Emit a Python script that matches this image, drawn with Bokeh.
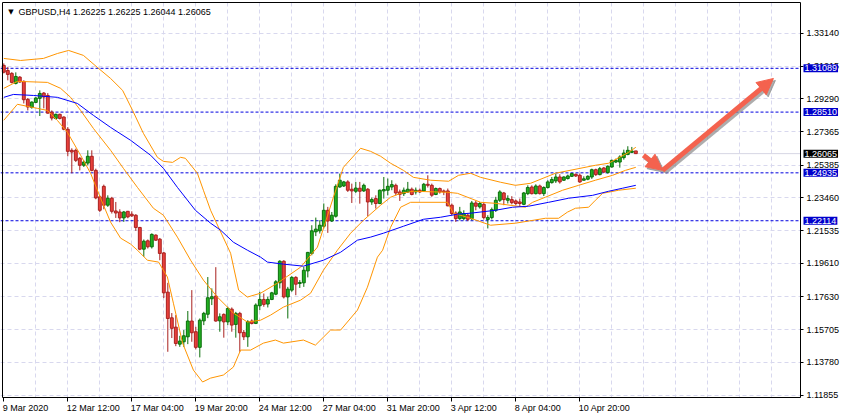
from bokeh.plotting import figure
from bokeh.models import (ColumnDataSource, FixedTicker, PrintfTickFormatter, Span,
                          Label, LabelSet, Arrow, NormalHead, LinearAxis, Grid, BoxAnnotation)
from bokeh.core.properties import value
from bokeh.embed import file_html
from bokeh.resources import INLINE

# ---------------- data ----------------
symbol_title = "GBPUSD,H4  1.26225 1.26225 1.26044 1.26065"

opens = [
1.3126, 1.3096, 1.3079, 1.3020, 1.3057, 1.3032, 1.2926, 1.2879, 1.2908, 1.2932,
1.2963, 1.2949, 1.2851, 1.2814, 1.2838, 1.2822, 1.2750, 1.2626, 1.2626, 1.2579,
1.2538, 1.2551, 1.2591, 1.2508, 1.2352, 1.2414, 1.2303, 1.2344, 1.2269, 1.2263,
1.2228, 1.2267, 1.2250, 1.2244, 1.2172, 1.2044, 1.2093, 1.2058, 1.2127, 1.2103,
1.2022, 1.1791, 1.1640, 1.1585, 1.1485, 1.1499, 1.1528, 1.1621, 1.1558, 1.1466,
1.1622, 1.1661, 1.1752, 1.1768, 1.1622, 1.1660, 1.1616, 1.1691, 1.1601, 1.1666,
1.1554, 1.1528, 1.1621, 1.1607, 1.1711, 1.1748, 1.1721, 1.1748, 1.1779, 1.1846,
1.1973, 1.1763, 1.1803, 1.1878, 1.1842, 1.1846, 1.1916, 1.2019, 1.2146, 1.2152,
1.2179, 1.2273, 1.2210, 1.2238, 1.2410, 1.2416, 1.2440, 1.2397, 1.2385, 1.2403,
1.2387, 1.2397, 1.2322, 1.2342, 1.2313, 1.2387, 1.2391, 1.2410, 1.2420, 1.2381,
1.2371, 1.2381, 1.2397, 1.2381, 1.2391, 1.2387, 1.2426, 1.2420, 1.2366, 1.2401,
1.2387, 1.2387, 1.2303, 1.2257, 1.2224, 1.2224, 1.2244, 1.2224, 1.2316, 1.2293,
1.2308, 1.2219, 1.2230, 1.2273, 1.2332, 1.2375, 1.2332, 1.2336, 1.2328, 1.2322,
1.2308, 1.2371, 1.2410, 1.2371, 1.2416, 1.2371, 1.2407, 1.2436, 1.2446, 1.2469,
1.2450, 1.2460, 1.2473, 1.2485, 1.2479, 1.2450, 1.2456, 1.2469, 1.2512, 1.2483,
1.2522, 1.2495, 1.2528, 1.2557, 1.2557, 1.2583, 1.2602, 1.2614, 1.26225]

highs = [
1.3138, 1.3116, 1.3086, 1.3085, 1.3063, 1.3038, 1.2934, 1.2914, 1.2939, 1.2979,
1.2969, 1.2963, 1.2861, 1.2842, 1.2842, 1.2826, 1.2763, 1.2638, 1.2636, 1.2587,
1.2567, 1.2626, 1.2626, 1.2518, 1.2361, 1.2424, 1.2361, 1.2352, 1.2322, 1.2279,
1.2269, 1.2269, 1.2267, 1.2250, 1.2175, 1.2101, 1.2101, 1.2137, 1.2131, 1.2110,
1.2028, 1.1846, 1.1668, 1.1656, 1.1534, 1.1568, 1.1680, 1.1803, 1.1587, 1.1636,
1.1675, 1.1880, 1.1813, 1.1938, 1.1666, 1.1666, 1.1705, 1.1701, 1.1675, 1.1675,
1.1568, 1.1626, 1.1631, 1.1725, 1.1793, 1.1783, 1.1764, 1.1793, 1.1862, 1.1979,
1.1979, 1.1822, 1.1885, 1.1885, 1.1862, 1.1940, 1.2028, 1.2185, 1.2230, 1.2214,
1.2313, 1.2293, 1.2263, 1.2426, 1.2489, 1.2446, 1.2450, 1.2430, 1.2440, 1.2440,
1.2430, 1.2404, 1.2348, 1.2361, 1.2395, 1.2469, 1.2460, 1.2450, 1.2430, 1.2395,
1.2407, 1.2440, 1.2407, 1.2407, 1.2401, 1.2434, 1.2479, 1.2430, 1.2407, 1.2407,
1.2395, 1.2401, 1.2313, 1.2267, 1.2293, 1.2273, 1.2254, 1.2328, 1.2328, 1.2322,
1.2316, 1.2244, 1.2289, 1.2352, 1.2391, 1.2381, 1.2361, 1.2356, 1.2336, 1.2342,
1.2381, 1.2420, 1.2420, 1.2426, 1.2424, 1.2414, 1.2450, 1.2469, 1.2489, 1.2485,
1.2473, 1.2483, 1.2493, 1.2489, 1.2489, 1.2473, 1.2479, 1.2518, 1.2518, 1.2528,
1.2528, 1.2538, 1.2571, 1.2577, 1.2597, 1.2630, 1.2650, 1.2646, 1.26225]

lows = [
1.3079, 1.3038, 1.3020, 1.3014, 1.3024, 1.2902, 1.2861, 1.2871, 1.2904, 1.2828,
1.2873, 1.2842, 1.2802, 1.2808, 1.2808, 1.2744, 1.2591, 1.2491, 1.2557, 1.2508,
1.2528, 1.2538, 1.2502, 1.2338, 1.2263, 1.2279, 1.2293, 1.2254, 1.2228, 1.2203,
1.2205, 1.2226, 1.2234, 1.2152, 1.2038, 1.1999, 1.2048, 1.2048, 1.2093, 1.1979,
1.1756, 1.1440, 1.1521, 1.1473, 1.1469, 1.1469, 1.1485, 1.1499, 1.1454, 1.1407,
1.1597, 1.1638, 1.1715, 1.1617, 1.1558, 1.1523, 1.1597, 1.1558, 1.1523, 1.1440,
1.1509, 1.1469, 1.1601, 1.1603, 1.1685, 1.1705, 1.1701, 1.1744, 1.1773, 1.1813,
1.1754, 1.1636, 1.1793, 1.1773, 1.1816, 1.1822, 1.1878, 1.2008, 1.2121, 1.2136,
1.2166, 1.2140, 1.2204, 1.2230, 1.2406, 1.2410, 1.2381, 1.2316, 1.2375, 1.2312,
1.2381, 1.2238, 1.2305, 1.2283, 1.2309, 1.2342, 1.2361, 1.2391, 1.2361, 1.2328,
1.2357, 1.2375, 1.2361, 1.2366, 1.2375, 1.2381, 1.2407, 1.2352, 1.2362, 1.2371,
1.2362, 1.2297, 1.2244, 1.2205, 1.2214, 1.2214, 1.2210, 1.2214, 1.2273, 1.2283,
1.2219, 1.2166, 1.2219, 1.2263, 1.2322, 1.2303, 1.2313, 1.2308, 1.2303, 1.2293,
1.2303, 1.2362, 1.2366, 1.2366, 1.2366, 1.2357, 1.2401, 1.2430, 1.2434, 1.2430,
1.2446, 1.2454, 1.2469, 1.2469, 1.2434, 1.2448, 1.2450, 1.2458, 1.2475, 1.2479,
1.2493, 1.2489, 1.2524, 1.2551, 1.2524, 1.2571, 1.2597, 1.2610, 1.26044]

closes = [
1.3086, 1.3073, 1.3026, 1.3061, 1.3028, 1.2924, 1.2881, 1.2910, 1.2934, 1.2961,
1.2940, 1.2845, 1.2816, 1.2838, 1.2814, 1.2750, 1.2620, 1.2616, 1.2567, 1.2538,
1.2557, 1.2591, 1.2508, 1.2346, 1.2273, 1.2303, 1.2344, 1.2267, 1.2257, 1.2228,
1.2263, 1.2234, 1.2240, 1.2172, 1.2044, 1.2091, 1.2058, 1.2131, 1.2097, 1.2019,
1.1787, 1.1636, 1.1578, 1.1489, 1.1503, 1.1534, 1.1621, 1.1552, 1.1466, 1.1626,
1.1666, 1.1758, 1.1764, 1.1621, 1.1646, 1.1616, 1.1695, 1.1597, 1.1666, 1.1552,
1.1528, 1.1617, 1.1607, 1.1715, 1.1748, 1.1719, 1.1748, 1.1787, 1.1852, 1.1973,
1.1763, 1.1809, 1.1878, 1.1838, 1.1848, 1.1920, 1.2025, 1.2152, 1.2162, 1.2185,
1.2273, 1.2210, 1.2244, 1.2414, 1.2450, 1.2440, 1.2391, 1.2387, 1.2404, 1.2385,
1.2420, 1.2322, 1.2336, 1.2313, 1.2391, 1.2395, 1.2414, 1.2424, 1.2375, 1.2367,
1.2391, 1.2397, 1.2366, 1.2391, 1.2381, 1.2426, 1.2420, 1.2362, 1.2401, 1.2381,
1.2381, 1.2299, 1.2254, 1.2224, 1.2263, 1.2254, 1.2220, 1.2316, 1.2297, 1.2313,
1.2230, 1.2230, 1.2277, 1.2332, 1.2381, 1.2336, 1.2342, 1.2318, 1.2313, 1.2313,
1.2375, 1.2407, 1.2371, 1.2416, 1.2371, 1.2407, 1.2440, 1.2454, 1.2469, 1.2440,
1.2469, 1.2475, 1.2489, 1.2475, 1.2440, 1.2458, 1.2473, 1.2512, 1.2483, 1.2518,
1.2498, 1.2532, 1.2567, 1.2567, 1.2587, 1.2610, 1.2626, 1.2622, 1.26065]

# Bollinger bands (upper / middle / lower) and moving average, read at bar positions
upper_bar = [0, 4.2, 9.9, 13.4, 16.2, 19.9, 23.4, 26.7, 29.7, 32.2,
             34.9, 38.4, 39.9, 42.2, 44.2, 45.4, 48.4, 49.9, 51.7, 56.7,
             58.7, 60.9, 64.2, 68.4, 74.2, 78.4, 82.4, 84.9, 89.2, 91.7,
             94.2, 96.7, 99.9, 102.4, 106.7, 111.2, 113.7, 116.7, 119.2, 124.2,
             127.9, 131.7, 137.9, 147.9, 151.2, 156.2, 158]
upper_val = [1.3167, 1.3155, 1.3167, 1.3196, 1.3214, 1.3185, 1.3114, 1.3049, 1.2979, 1.2861,
             1.2726, 1.2585, 1.2561, 1.2555, 1.2585, 1.2579, 1.2491, 1.2391, 1.2273, 1.2020,
             1.1803, 1.1762, 1.1785, 1.1844, 1.1938, 1.2056, 1.2350, 1.2526, 1.2638, 1.2620,
             1.2591, 1.2550, 1.2508, 1.2467, 1.2450, 1.2444, 1.2479, 1.2491, 1.2467, 1.2438,
             1.2420, 1.2432, 1.2491, 1.2538, 1.2550, 1.2614, 1.2644]

mid_bar = [0, 3.4, 10.9, 14.2, 16.7, 19.2, 22.4, 26.7, 29.9, 33.4,
           37.4, 39.9, 43.4, 46.7, 49.9, 53.4, 57.4, 60.9, 64.2, 66.7,
           69.9, 74.2, 76.7, 79.9, 83.4, 86.7, 89.9, 94.2, 96.7, 99.2,
           102.4, 110.9, 113.4, 119.2, 122.9, 130.4, 132.2, 135.4, 139.7, 143.7,
           147.9, 152.2, 155.4, 158]
mid_val = [1.2991, 1.3032, 1.3026, 1.2991, 1.2938, 1.2861, 1.2755, 1.2626, 1.2520, 1.2408,
           1.2285, 1.2244, 1.2115, 1.1979, 1.1862, 1.1762, 1.1668, 1.1615, 1.1626, 1.1656,
           1.1703, 1.1744, 1.1785, 1.1920, 1.2038, 1.2138, 1.2214, 1.2303, 1.2350, 1.2373,
           1.2385, 1.2379, 1.2373, 1.2320, 1.2314, 1.2291, 1.2320, 1.2350, 1.2391, 1.2420,
           1.2450, 1.2479, 1.2508, 1.2526]

lower_bar = [0, 3.4, 8.4, 10.9, 13.4, 15.9, 19.2, 21.7, 24.2, 26.7,
             29.2, 31.7, 33.4, 35.9, 38.7, 40.9, 42.4, 44.7, 47.4, 49.7,
             51.7, 54.9, 57.4, 59.2, 61.7, 64.9, 67.9, 69.9, 74.9, 77.9,
             81.7, 84.2, 88.4, 90.9, 93.4, 94.7, 96.7, 99.2, 101.7, 110.9,
             112.4, 116.7, 121.7, 127.9, 135.4, 138.7, 140.9, 142.9, 146.2, 147.9,
             149.7, 153.7, 158]
lower_val = [1.2803, 1.2897, 1.2873, 1.2861, 1.2802, 1.2732, 1.2597, 1.2491, 1.2344, 1.2203,
             1.2109, 1.2074, 1.2038, 1.1979, 1.1968, 1.1880, 1.1726, 1.1491, 1.1332, 1.1262,
             1.1285, 1.1303, 1.1350, 1.1450, 1.1450, 1.1491, 1.1509, 1.1491, 1.1509, 1.1479,
             1.1568, 1.1568, 1.1685, 1.1820, 1.1997, 1.2038, 1.2173, 1.2291, 1.2320, 1.2320,
             1.2256, 1.2226, 1.2185, 1.2197, 1.2226, 1.2226, 1.2262, 1.2285, 1.2291, 1.2332,
             1.2373, 1.2391, 1.2403]

ma_bar = [0, 2.4, 7.4, 13.4, 18.4, 22.4, 26.7, 31.7, 36.7, 39.9,
          43.4, 47.9, 51.7, 54.2, 57.4, 60.9, 64.2, 65.9, 69.9, 74.9,
          79.9, 84.2, 88.4, 91.7, 94.9, 99.9, 104.9, 109.2, 113.4, 116.7,
          122.9, 127.2, 131.2, 136.2, 141.2, 147.2, 151.2, 154.7, 158]
ma_val = [1.2938, 1.2955, 1.2949, 1.2938, 1.2902, 1.2832, 1.2761, 1.2685, 1.2597, 1.2520,
          1.2408, 1.2273, 1.2197, 1.2156, 1.2085, 1.2038, 1.1997, 1.1968, 1.1956, 1.1944,
          1.1979, 1.2026, 1.2097, 1.2115, 1.2138, 1.2179, 1.2220, 1.2232, 1.2250, 1.2256,
          1.2273, 1.2291, 1.2297, 1.2320, 1.2344, 1.2361, 1.2385, 1.2403, 1.2420]

levels = [1.31089, 1.28510, 1.24935, 1.22114]
level_labels = ["1.31089", "1.28510", "1.24935", "1.22114"]
bid_price = 1.26065
bid_label = "1.26065"

y_ticks = [1.11855, 1.13780, 1.15705, 1.17630, 1.19610, 1.21535,
           1.23460, 1.25385, 1.27365, 1.29290, 1.31215, 1.33140]
x_tick_bars = [0, 16, 32, 48, 64, 80, 96, 112, 128, 144]
x_tick_labels = ["9 Mar 2020", "12 Mar 12:00", "17 Mar 04:00", "19 Mar 20:00",
                 "24 Mar 12:00", "27 Mar 04:00", "31 Mar 20:00", "3 Apr 12:00",
                 "8 Apr 04:00", "10 Apr 20:00"]

# hand-drawn arrows (bar, price)
arrow1_bar = [159.9, 164.7]
arrow1_val = [1.2597, 1.2508]
arrow2_bar = [164.7, 192.4]
arrow2_val = [1.2508, 1.3049]

# ---------------- layout ----------------
W, H = 846, 419
CH_L, CH_R = 2, 800          # chart box in canvas pixels (x)
CH_T, CH_B = 2, 397          # chart box in canvas pixels (y)
X0, X1 = -0.325, 199.17      # bar units at chart left / right edge
YB, YT = 1.11708, 1.34963    # price at chart bottom / top
ppx = (X1 - X0) / (CH_R - CH_L)
ppy = (YT - YB) / (CH_B - CH_T)
XS, XE = X0 - CH_L * ppx, X1 + (W - CH_R) * ppx
YE, YS = YT + CH_T * ppy, YB - (H - CH_B) * ppy
FONT = "Liberation Sans"

p = figure(width=W, height=H, x_range=(XS, XE), y_range=(YS, YE),
           x_axis_type=None, y_axis_type=None,
           toolbar_location=None, output_backend="svg", min_border=0)
p.background_fill_color = "white"
p.border_fill_color = "white"
p.outline_line_color = None

# grid
grid_kw = dict(grid_line_color="#D8D8EE", grid_line_dash="4 3", grid_line_width=1)
p.add_layout(Grid(dimension=0, ticker=FixedTicker(ticks=list(range(8, 200, 8))), **grid_kw))
p.add_layout(Grid(dimension=1, ticker=FixedTicker(ticks=y_ticks), **grid_kw))

# bid line and level lines
p.add_layout(Span(location=bid_price, dimension="width", line_color="#D6D6E4",
                  line_width=1, level="underlay"))
for lv in levels:
    p.add_layout(Span(location=lv, dimension="width", line_color="#0000E0",
                      line_dash="3 2", line_width=1, level="underlay"))

# blank the axis areas (outside the chart box)
p.add_layout(BoxAnnotation(left=X1, fill_color="white", fill_alpha=1, line_alpha=0, level="underlay"))
p.add_layout(BoxAnnotation(top=YB, fill_color="white", fill_alpha=1, line_alpha=0, level="underlay"))

# axes (library axes at fixed positions)
yax = LinearAxis(fixed_location=X1, bounds=(YB, YT), ticker=FixedTicker(ticks=y_ticks),
                 formatter=PrintfTickFormatter(format="%.5f"),
                 major_label_text_font=FONT, major_label_text_font_size="9px",
                 major_label_text_color="black", major_tick_in=0, major_tick_out=3,
                 minor_tick_in=0, minor_tick_out=0, major_label_standoff=3,
                 axis_line_color="black", major_tick_line_color="black")
p.add_layout(yax, "right")

xax = LinearAxis(fixed_location=YB, bounds=(X0, X1), ticker=FixedTicker(ticks=x_tick_bars),
                 major_label_text_color=None,
                 major_tick_in=0, major_tick_out=4, minor_tick_in=0, minor_tick_out=0,
                 axis_line_color="black", major_tick_line_color="black")
p.add_layout(xax, "below")

lax = LinearAxis(fixed_location=X0, bounds=(YB, YT), ticker=FixedTicker(ticks=[]),
                 major_tick_out=0, minor_tick_out=0, axis_line_color="black",
                 major_label_text_color=None)
p.add_layout(lax, "left")
tax = LinearAxis(fixed_location=YT, bounds=(X0, X1), ticker=FixedTicker(ticks=[]),
                 major_tick_out=0, minor_tick_out=0, axis_line_color="black",
                 major_label_text_color=None)
p.add_layout(tax, "above")

# date labels, left-aligned at their ticks (MT4 style)
date_src = ColumnDataSource(dict(x=x_tick_bars, y=[YB - 5 * ppy] * len(x_tick_bars),
                                 t=x_tick_labels))
p.add_layout(LabelSet(x="x", y="y", text="t", source=date_src, text_font=value(FONT),
                      text_font_size="9px", text_align="left", text_baseline="top",
                      text_color="black", x_offset=-1))

# candles
idx = list(range(len(opens)))
up = [i for i in idx if closes[i] >= opens[i]]
dn = [i for i in idx if closes[i] < opens[i]]

def src(ids):
    return ColumnDataSource(dict(
        x=ids,
        hi=[highs[i] for i in ids], lo=[lows[i] for i in ids],
        top=[max(opens[i], closes[i]) for i in ids],
        bot=[min(opens[i], closes[i]) for i in ids]))

su, sd = src(up), src(dn)
p.segment(x0="x", y0="lo", x1="x", y1="hi", source=su, line_color="#0A6E0A", line_width=1)
p.segment(x0="x", y0="lo", x1="x", y1="hi", source=sd, line_color="#A8201E", line_width=1)
p.vbar(x="x", width=0.72, top="top", bottom="bot", source=su,
       fill_color="#22B022", line_color="#0A6E0A", line_width=1)
p.vbar(x="x", width=0.72, top="top", bottom="bot", source=sd,
       fill_color="#E8403C", line_color="#A8201E", line_width=1)

# indicators
band_color = "#FF9500"
p.line(upper_bar, upper_val, line_color=band_color, line_width=1)
p.line(mid_bar, mid_val, line_color=band_color, line_width=1)
p.line(lower_bar, lower_val, line_color=band_color, line_width=1)
p.line(ma_bar, ma_val, line_color="#0000FF", line_width=1)

# arrows (shadow + arrow)
dx, dy = 2 * ppx, -2 * ppy
arrow_col = "#F4624E"
for (bx, by) in ((arrow1_bar, arrow1_val), (arrow2_bar, arrow2_val)):
    p.add_layout(Arrow(x_start=bx[0] + dx, y_start=by[0] + dy, x_end=bx[1] + dx, y_end=by[1] + dy,
                       line_color="#8A8A8A", line_alpha=0.7, line_width=5,
                       end=NormalHead(size=16, fill_color="#8A8A8A", fill_alpha=0.7,
                                      line_color="#8A8A8A", line_alpha=0.7)))
for (bx, by) in ((arrow1_bar, arrow1_val), (arrow2_bar, arrow2_val)):
    p.add_layout(Arrow(x_start=bx[0], y_start=by[0], x_end=bx[1], y_end=by[1],
                       line_color=arrow_col, line_width=5,
                       end=NormalHead(size=16, fill_color=arrow_col, line_color=arrow_col)))

# price labels at right axis
lab_x = X1 + 3 * ppx
for lv, txt in zip(levels, level_labels):
    p.add_layout(Label(x=lab_x, y=lv, text=txt, text_color="white",
                       text_font=FONT, text_font_size="9px",
                       text_align="left", text_baseline="middle",
                       background_fill_color="#0000CC", padding=1, level="overlay"))
p.add_layout(Label(x=lab_x, y=bid_price, text=bid_label, text_color="white",
                   text_font=FONT, text_font_size="9px",
                   text_align="left", text_baseline="middle",
                   background_fill_color="black", padding=1, level="overlay"))

# title
title_y = YT - 9 * ppy
p.add_layout(Label(x=X0 + 8.5 * ppx, y=title_y, text="\u25bc", text_font="DejaVu Sans",
                   text_font_size="7px", text_align="center", text_baseline="middle",
                   text_color="black"))
p.add_layout(Label(x=X0 + 16 * ppx, y=title_y, text=symbol_title, text_font=FONT,
                   text_font_size="9px", text_align="left", text_baseline="middle",
                   text_color="black"))

open("out.html", "w").write(file_html(p, INLINE))
